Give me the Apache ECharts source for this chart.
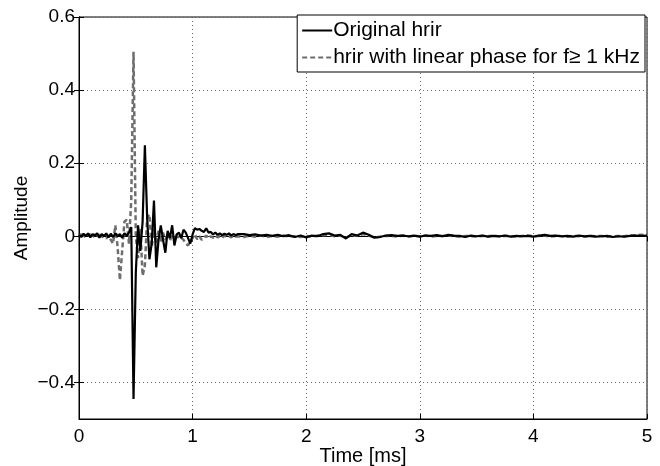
<!DOCTYPE html>
<html>
<head>
<meta charset="utf-8">
<script src="https://cdn.jsdelivr.net/npm/echarts@6/dist/echarts.min.js"></script>
<style>
  html, body { margin: 0; padding: 0; background: #fff; }
  #chart { width: 660px; height: 466px; }
</style>
</head>
<body>
<div id="chart"></div>
<script>
// onset part sampled every 0.02 ms (0 .. 1.40 ms)
const headStep = 0.02
const originalHead = [
  0.004, -0.002, 0.007, 0.000, 0.008, -0.003, 0.006, 0.001, 0.008, -0.004,
  0.006, 0.000, 0.008, -0.003, 0.007, -0.002, 0.008, 0.000, 0.006, -0.004,
  0.008, 0.002, 0.010, 0.025, -0.445, -0.100, 0.030, -0.040, 0.040, 0.249,
  0.050, -0.063, -0.020, 0.098, -0.085, -0.010, 0.030, -0.010, -0.045, 0.015,
  -0.005, 0.030, -0.025, 0.005, 0.010, -0.005, 0.018, 0.010, -0.005, -0.020,
  0.005, 0.022, 0.018, 0.020, 0.015, 0.012, 0.022, 0.010, 0.012, 0.005,
  0.010, 0.004, 0.008, 0.003, 0.007, 0.004, 0.008, 0.002, 0.006, 0.003,
  0.006
]
const linearHead = [
  0.000, 0.006, -0.004, 0.005, -0.003, 0.006, -0.004, 0.006, -0.003, 0.005,
  -0.005, 0.004, -0.006, 0.003, -0.010, -0.020, 0.030, -0.030, -0.120, -0.040,
  0.040, 0.045, -0.020, 0.100, 0.505, 0.000, -0.060, 0.020, -0.108, -0.080,
  0.050, 0.060, -0.030, 0.020, -0.020, 0.015, -0.015, 0.010, -0.010, 0.008,
  -0.012, 0.006, -0.008, 0.004, -0.006, -0.004, -0.010, -0.020, -0.025, -0.015,
  -0.005, 0.005, -0.008, 0.000, -0.010, -0.004, 0.002, -0.006, 0.000, -0.004,
  0.002, -0.003, 0.001, -0.004, 0.002, -0.002, 0.001, -0.003, 0.002, -0.001,
  0.000
]
// tail sampled every 0.05 ms (1.45 .. 5.00 ms)
const tailStart = 1.45
const tailStep = 0.05
const originalTail = [
  0.006, 0.003, 0.005, 0.002, 0.004, 0.001, 0.004, 0.000, 0.003, -0.002,
  0.002, -0.003, 0.002, 0.000, 0.006, 0.008, 0.002, 0.004, -0.006, 0.006,
  0.002, 0.010, 0.004, -0.004, -0.002, 0.002, 0.003, 0.001, 0.002, 0.000,
  0.002, -0.001, 0.002, 0.001, 0.003, 0.000, 0.004, 0.002, 0.001, -0.002,
  0.002, 0.000, 0.002, -0.001, 0.001, 0.000, 0.002, -0.001, 0.001, 0.000,
  0.001, -0.001, 0.002, 0.004, 0.001, 0.002, 0.000, 0.001, -0.001, 0.002,
  0.000, 0.001, -0.001, 0.000, 0.001, -0.002, 0.000, -0.001, 0.001, 0.002,
  0.001, 0.002
]
const linearTail = [
  -0.002, 0.001, -0.001, 0.002, -0.002, 0.001, -0.001, 0.002, -0.001, 0.000,
  -0.002, 0.001, -0.001, 0.002, 0.003, 0.004, 0.000, 0.002, -0.004, 0.003,
  0.001, 0.006, 0.002, -0.003, -0.001, 0.001, 0.001, -0.001, 0.002, -0.001,
  0.001, 0.000, 0.002, -0.001, 0.001, 0.001, 0.002, 0.000, -0.001, 0.001,
  0.000, -0.001, 0.001, 0.000, 0.002, -0.001, 0.001, 0.000, -0.001, 0.001,
  0.002, 0.000, 0.001, 0.002, -0.001, 0.001, 0.000, -0.001, 0.001, 0.000,
  -0.001, 0.001, 0.000, 0.001, -0.001, 0.000, 0.001, 0.000, 0.002, 0.003,
  0.004, 0.002
]
const seriesNames = ['Original hrir', 'hrir with linear phase for f\u2265 1 kHz']
const yTicks = [-0.4, -0.2, 0, 0.2, 0.4, 0.6]

function toPairs (head, tail) {
  let out = []
  head.forEach((v, i) => out.push([+(i * headStep).toFixed(3), v]))
  tail.forEach((v, i) => out.push([+(tailStart + i * tailStep).toFixed(3), v]))
  return out
}

let chartDom = document.getElementById('chart')
let myChart = echarts.init(chartDom)

let font = 'Liberation Sans, Arial, Helvetica, sans-serif'
let gridLine = { show: true, lineStyle: { color: '#666', type: [1, 3], width: 1 } }

let option = {
  animation: false,
  backgroundColor: '#fff',
  textStyle: { fontFamily: font },
  grid: {
    left: 79, right: 13, top: 17, bottom: 47,
    outerBoundsMode: 'none',
    containLabel: false,
    show: true, borderColor: '#000', borderWidth: 1
  },
  legend: {
    orient: 'vertical',
    right: 15,
    top: 15,
    backgroundColor: '#fff',
    borderColor: '#000',
    borderWidth: 1,
    borderRadius: 0,
    padding: [5, 5, 4, 4],
    itemGap: 6,
    itemWidth: 30,
    itemHeight: 14,
    itemStyle: { opacity: 0 },
    textStyle: { fontFamily: font, fontSize: 21, color: '#000', padding: [0, 0, 0, -4] },
    data: seriesNames
  },
  xAxis: [{
    type: 'value',
    min: 0, max: 5, interval: 1,
    name: 'Time [ms]',
    nameLocation: 'middle',
    nameGap: 27,
    nameMoveOverlap: false,
    nameTextStyle: { fontSize: 20, color: '#000' },
    axisLine: { show: true, onZero: false, lineStyle: { color: '#000' } },
    axisTick: { show: true, inside: true, length: 5, lineStyle: { color: '#000' } },
    axisLabel: { fontSize: 19, color: '#000', margin: 8 },
    splitLine: gridLine
  }, {
    type: 'value', position: 'top',
    min: 0, max: 5, interval: 1,
    axisLine: { show: true, lineStyle: { color: '#000' } },
    axisTick: { show: true, inside: true, length: 5, lineStyle: { color: '#000' } },
    axisLabel: { show: false },
    splitLine: { show: false }
  }],
  yAxis: [{
    type: 'value',
    min: -0.5, max: 0.6,
    name: 'Amplitude',
    nameLocation: 'middle',
    nameGap: 48,
    nameMoveOverlap: false,
    nameTextStyle: { fontSize: 19, color: '#000' },
    axisLine: { show: true, onZero: false, lineStyle: { color: '#000' } },
    axisTick: { show: true, inside: true, length: 5, customValues: yTicks, lineStyle: { color: '#000' } },
    axisLabel: {
      fontSize: 19, color: '#000', margin: 4,
      customValues: yTicks,
      formatter: v => (v < 0 ? '\u2212' + Math.abs(v) : String(+v.toFixed(1)))
    },
    splitLine: gridLine
  }, {
    type: 'value', position: 'right',
    min: -0.5, max: 0.6,
    axisLine: { show: true, lineStyle: { color: '#000' } },
    axisTick: { show: true, inside: true, length: 5, customValues: yTicks, lineStyle: { color: '#000' } },
    axisLabel: { show: false },
    splitLine: { show: false }
  }],
  series: [{
    name: seriesNames[0],
    type: 'line',
    symbol: 'none',
    z: 3,
    lineStyle: { color: '#000', width: 2.2 },
    itemStyle: { color: '#000' },
    data: toPairs(originalHead, originalTail)
  }, {
    name: seriesNames[1],
    type: 'line',
    symbol: 'none',
    z: 2,
    lineStyle: { color: '#6e6e6e', width: 2.5, type: [5, 3] },
    itemStyle: { color: '#6e6e6e' },
    data: toPairs(linearHead, linearTail)
  }]
}
myChart.setOption(option)
</script>
</body>
</html>
